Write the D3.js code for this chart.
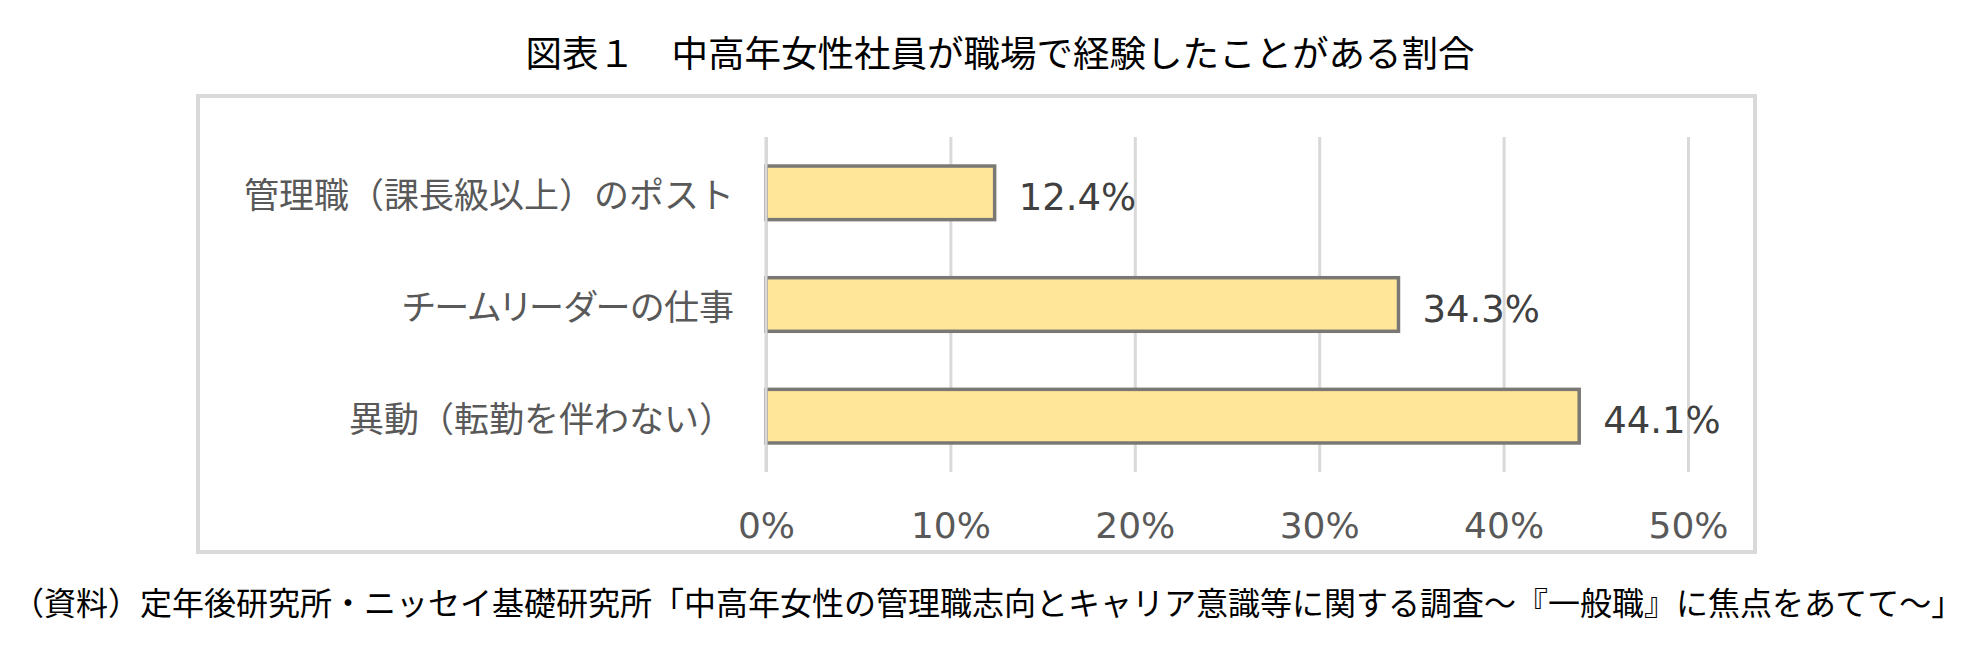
<!DOCTYPE html>
<html>
<head>
<meta charset="utf-8">
<script src="https://d3js.org/d3.v7.min.js"></script>
<style>
    body { margin: 0; background: #fff; }
    .cjk { font-family: "Noto Sans CJK JP", sans-serif; }
    .num { font-family: "DejaVu Sans", Verdana, sans-serif; }
    .prop { font-feature-settings: "palt"; }
</style>
</head>
<body>
<svg id="chart" width="1984" height="668"></svg>
<script>
    var categories = ["管理職（課長級以上）のポスト", "チームリーダーの仕事", "異動（転勤を伴わない）"]
    var values = [12.4, 34.3, 44.1]
    var tickValues = [0, 10, 20, 30, 40, 50]
    var tickLabels = ["0%", "10%", "20%", "30%", "40%", "50%"]
    var title = "図表１　中高年女性社員が職場で経験したことがある割合"
    var source = "（資料）定年後研究所・ニッセイ基礎研究所「中高年女性の管理職志向とキャリア意識等に関する調査～『一般職』に焦点をあてて～」"

    var svg = d3.select("#chart")

    var plotTop = 137, plotBottom = 472

    var x = d3.scaleLinear().domain([0, 50]).range([766, 1688])
    var y = d3.scaleBand()
        .domain(categories)
        .range([plotTop, plotBottom])
        .paddingInner(0.52)
        .paddingOuter(0.26)

    // title
    svg.append("text")
        .attr("class", "cjk")
        .attr("x", 1000)
        .attr("y", 51)
        .attr("text-anchor", "middle")
        .attr("dominant-baseline", "central")
        .attr("font-size", 36.5)
        .attr("fill", "#000")
        .text(title)

    // chart frame
    svg.append("rect")
        .attr("x", 198)
        .attr("y", 96)
        .attr("width", 1557)
        .attr("height", 456)
        .attr("fill", "#fff")
        .attr("stroke", "#d9d9d9")
        .attr("stroke-width", 4)

    // gridlines
    var grid = svg.append("g")
        .attr("transform", "translate(0," + plotBottom + ")")
        .call(d3.axisTop(x).tickValues(tickValues).tickSize(plotBottom - plotTop).tickFormat(""))
    grid.select(".domain").remove()
    grid.selectAll("line").attr("stroke", "#d9d9d9").attr("stroke-width", 3)

    // bars
    svg.selectAll(".bar")
        .data(values)
        .enter().append("rect")
        .attr("class", "bar")
        .attr("x", x(0))
        .attr("y", (d, i) => y(categories[i]))
        .attr("width", (d) => x(d) - x(0))
        .attr("height", y.bandwidth())
        .attr("fill", "#ffe699")
        .attr("stroke", "#7a7874")
        .attr("stroke-width", 3.5)

    // vertical axis line on top of the bars
    svg.append("line")
        .attr("x1", x(0)).attr("x2", x(0))
        .attr("y1", plotTop).attr("y2", plotBottom)
        .attr("stroke", "#d9d9d9")
        .attr("stroke-width", 3)

    // value labels
    svg.selectAll(".val")
        .data(values)
        .enter().append("text")
        .attr("class", "num val")
        .attr("x", (d) => x(d) + 24)
        .attr("y", (d, i) => y(categories[i]) + y.bandwidth() / 2 + 17)
        .attr("font-size", 37)
        .attr("fill", "#404040")
        .text((d) => d.toFixed(1) + "%")

    // category labels (kana-only label set proportionally, like the original)
    svg.selectAll(".cat")
        .data(categories)
        .enter().append("text")
        .attr("class", (d) => /[（）]/.test(d) ? "cjk cat" : "cjk cat prop")
        .attr("x", 734)
        .attr("y", (d) => y(d) + y.bandwidth() / 2)
        .attr("text-anchor", "end")
        .attr("dominant-baseline", "central")
        .attr("font-size", 35)
        .attr("fill", "#595959")
        .text((d) => d)

    // tick labels
    var axis = svg.append("g")
        .attr("transform", "translate(0,538)")
        .call(d3.axisBottom(x).tickValues(tickValues).tickSize(0).tickFormat((d, i) => tickLabels[i]))
    axis.select(".domain").remove()
    axis.selectAll("text")
        .attr("class", "num")
        .attr("dy", 0)
        .attr("y", 0)
        .attr("font-size", 36)
        .attr("fill", "#595959")

    // source note
    svg.append("text")
        .attr("class", "cjk")
        .attr("x", 12)
        .attr("y", 601)
        .attr("dominant-baseline", "central")
        .attr("font-size", 32)
        .attr("fill", "#000")
        .text(source)
</script>
</body>
</html>
